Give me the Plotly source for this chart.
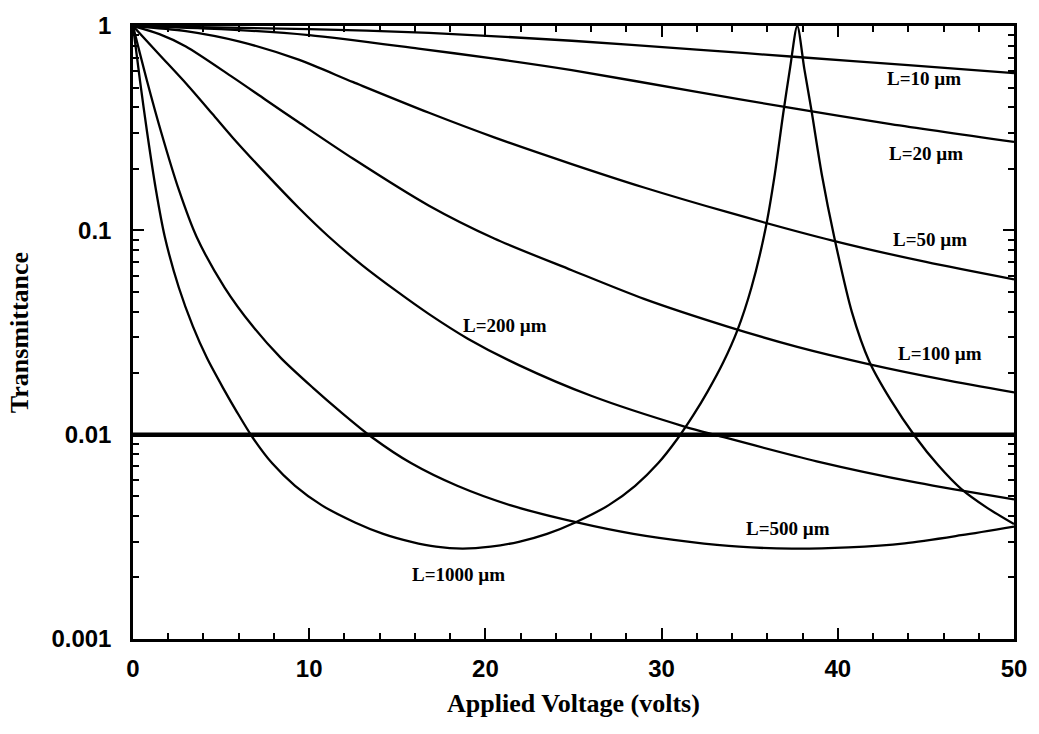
import math
import plotly.graph_objects as go

# Applied voltage (V) and transmittance readings for each cell length
v_10 = [0, 10, 16.8, 24.9, 32.0, 37.7, 44, 50]
t_10 = [1.0, 0.966, 0.925, 0.847, 0.767, 0.705, 0.643, 0.588]

v_20 = [0, 5, 10, 16.2, 20.5, 24.9, 32.0, 36.9, 43, 50]
t_20 = [1.0, 0.966, 0.902, 0.775, 0.692, 0.608, 0.476, 0.403, 0.331, 0.271]

v_50 = [0, 3, 6, 9.4, 12.5, 16.8, 20.5, 24.9, 29, 33.7, 39.7, 45, 50]
t_50 = [1.0, 0.944, 0.841, 0.684, 0.531, 0.376, 0.285, 0.211, 0.162, 0.123,
        0.0891, 0.0700, 0.0575]

v_100 = [0, 1.5, 3, 5.65, 7.5, 9.4, 12.5, 16.8, 20.5, 24.9, 29, 33.7, 37.7,
         41.8, 46, 50]
t_100 = [1.0, 0.912, 0.794, 0.562, 0.437, 0.338, 0.224, 0.132, 0.0912, 0.0638,
         0.0462, 0.0339, 0.0269, 0.0221, 0.0186, 0.0161]

v_200 = [0, 1.5, 3.05, 4.5, 5.65, 7.5, 9.4, 11.1, 13, 15, 16.8, 19, 21.9, 26.0,
         31.3, 33.2, 38.8, 44.5, 50]
t_200 = [1.0, 0.724, 0.519, 0.372, 0.285, 0.191, 0.129, 0.0933, 0.0676,
         0.0501, 0.0389, 0.0295, 0.0219, 0.0155, 0.01096, 0.00989, 0.00741,
         0.00582, 0.00482]

v_500 = [0, 0.8, 1.6, 2.6, 3.6, 5.2, 6.8, 8.4, 10.2, 11.8, 13.6, 15.8, 18.4,
         21.4, 25.2, 28.4, 31.6, 34.4, 37.4, 40.6, 43.8, 47, 50]
t_500 = [1.0, 0.537, 0.302, 0.158, 0.0933, 0.0525, 0.0339, 0.0237, 0.0170,
         0.0129, 0.00966, 0.00724, 0.00562, 0.00452, 0.00372, 0.00327,
         0.00299, 0.00283, 0.00277, 0.00281, 0.00294, 0.00322, 0.00355]

v_1000 = [0, 0.4, 0.8, 1.3, 1.8, 2.6, 3.4, 4.2, 5.1, 5.9, 6.8, 7.9, 9.2, 10.7,
          12.6, 14.2, 15.8, 17.2, 18.7, 20.3, 21.9, 23.5, 25.1, 27, 28.5, 29.8,
          30.9, 31.8, 32.6, 33.5, 34.3, 35.1, 35.9, 36.4, 36.9, 37.3, 37.7,
          38.1, 38.5, 39.1, 39.8, 40.8, 41.8, 43, 44.4, 45.7, 47.0, 48.5, 50]
t_1000 = [1.0, 0.537, 0.302, 0.158, 0.0933, 0.0525, 0.0339, 0.0237, 0.0170,
          0.0129, 0.00966, 0.00724, 0.00562, 0.00452, 0.00372, 0.00327,
          0.00299, 0.00283, 0.00277, 0.00283, 0.00299, 0.00327, 0.00372,
          0.00452, 0.00562, 0.00724, 0.00955, 0.01245, 0.0162, 0.0226,
          0.0324, 0.0525, 0.102, 0.182, 0.372, 0.631, 1.0, 0.617, 0.389,
          0.186, 0.0925, 0.0398, 0.0227, 0.0148, 0.00977, 0.00708, 0.00543,
          0.00437, 0.00365]

# 1 % transmittance reference level
ref_v = [0, 50]
ref_t = [0.01, 0.01]

curves = [
    ("L=10 µm", v_10, t_10),
    ("L=20 µm", v_20, t_20),
    ("L=50 µm", v_50, t_50),
    ("L=100 µm", v_100, t_100),
    ("L=200 µm", v_200, t_200),
    ("L=500 µm", v_500, t_500),
    ("L=1000 µm", v_1000, t_1000),
]

# curve labels: text, voltage and transmittance of the label centre
label_names = ["L=10 µm", "L=20 µm", "L=50 µm", "L=100 µm", "L=200 µm", "L=500 µm", "L=1000 µm"]
label_v = [44.9, 45.0, 45.25, 45.8, 21.1, 37.2, 18.5]
label_t = [0.556, 0.237, 0.0906, 0.0251, 0.0342, 0.00347, 0.00207]

fig = go.Figure()

for name, v, t in curves:
    fig.add_trace(go.Scatter(
        x=v, y=t, mode="lines", name=name,
        line=dict(color="black", width=2.3, shape="spline", smoothing=0.8),
        showlegend=False,
    ))

fig.add_trace(go.Scatter(
    x=ref_v, y=ref_t, mode="lines", name="T=0.01",
    line=dict(color="black", width=4.5), showlegend=False,
))

label_font = dict(family="Liberation Serif", size=19, color="black", weight="bold")

for txt, xv, yv in zip(label_names, label_v, label_t):
    # annotation y on a log axis is given in log10 units
    fig.add_annotation(x=xv, y=math.log10(yv), text=txt, showarrow=False,
                       font=label_font, xanchor="center", yanchor="middle")

minor_vals = [m * 10 ** e for e in (-3, -2, -1) for m in range(2, 10)]
tick_font = dict(family="Liberation Sans", size=24, color="black", weight="bold")
title_font = dict(family="Liberation Serif", size=26, color="black", weight="bold")

fig.update_layout(
    width=1039, height=734,
    margin=dict(l=133, r=21, t=15, b=95),
    paper_bgcolor="white", plot_bgcolor="white",
    xaxis=dict(
        range=[0, 50], tickvals=[0, 10, 20, 30, 40, 50],
        ticks="inside", ticklen=11, tickwidth=2, tickcolor="black",
        minor=dict(dtick=2, tick0=0, ticks="inside", ticklen=6, tickwidth=1.5,
                   tickcolor="black", showgrid=False),
        showline=True, linewidth=2.5, linecolor="black", mirror="ticks",
        showgrid=False, zeroline=False, ticklabelstandoff=6,
        tickfont=tick_font,
        title=dict(text="Applied Voltage (volts)", standoff=14, font=title_font),
    ),
    yaxis=dict(
        type="log", range=[-3, 0],
        tickvals=[0.001, 0.01, 0.1, 1], ticktext=["0.001", "0.01", "0.1", "1"],
        ticks="inside", ticklen=11, tickwidth=2, tickcolor="black",
        minor=dict(tickmode="array", tickvals=minor_vals, ticks="inside", ticklen=6,
                   tickwidth=1.5, tickcolor="black", showgrid=False),
        showline=True, linewidth=2.5, linecolor="black", mirror="ticks",
        showgrid=False, zeroline=False, ticklabelstandoff=14,
        tickfont=tick_font,
        title=dict(text="Transmittance", standoff=16, font=title_font),
    ),
)

fig.write_html("out.html")
